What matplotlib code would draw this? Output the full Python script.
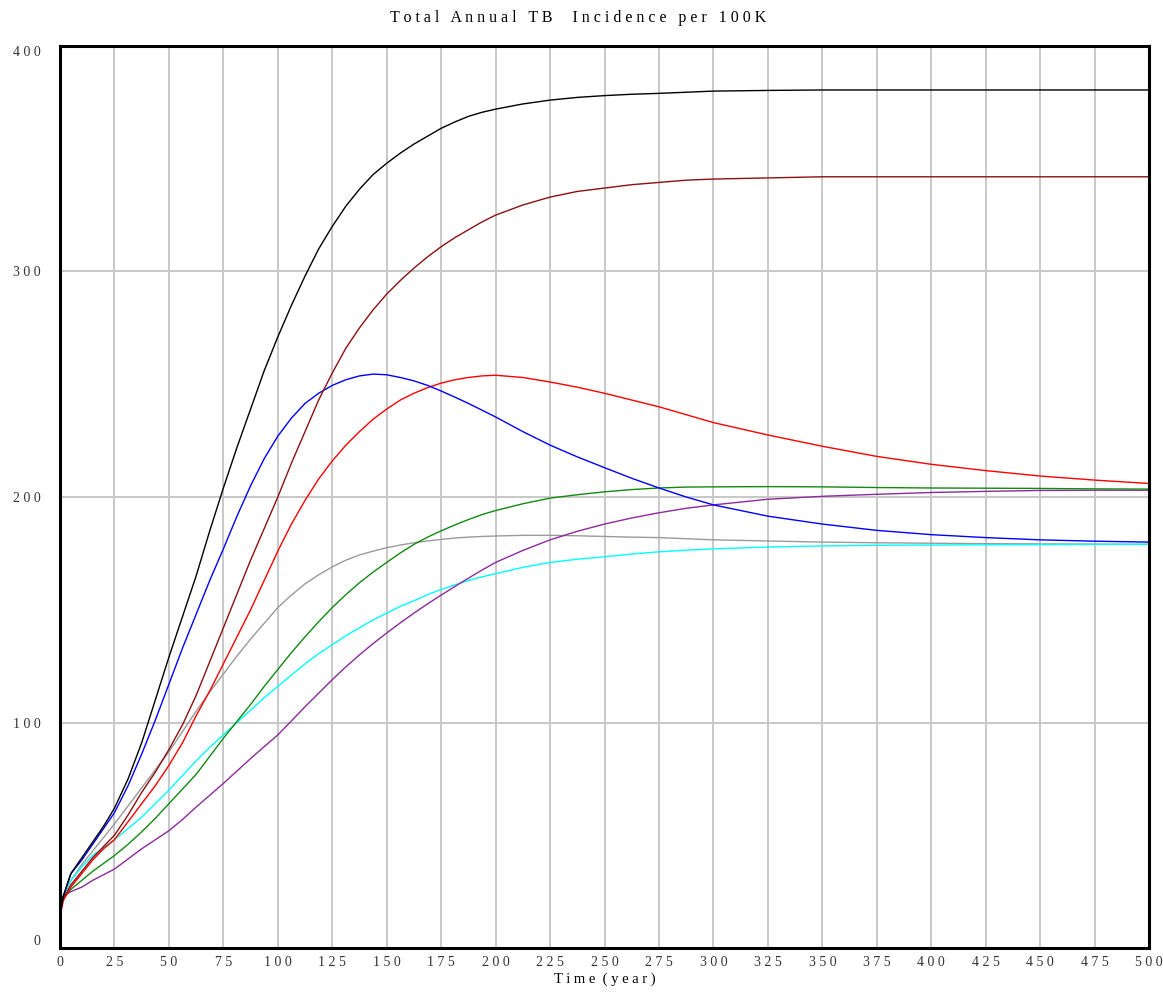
import matplotlib
matplotlib.use("Agg")
import matplotlib.pyplot as plt

# ── Data (time in years, incidence per 100K) ──────────────────────────────────
t = [0, 1.5, 5, 10, 15, 20, 25,
     31.25, 37.5, 43.75, 50, 56.25, 62.5, 68.75, 75, 81.25, 87.5, 93.75, 100,
     106.25, 112.5, 118.75, 125, 131.25, 137.5, 143.75, 150, 156.25, 162.5,
     168.75, 175, 181.25, 187.5, 193.75, 200,
     212.5, 225, 237.5, 250, 262.5, 275, 287.5, 300,
     325, 350, 375, 400, 425, 450, 475, 500]

black = [15, 23, 33, 40, 47, 54, 62,
         75, 91, 110, 129, 147, 165, 185, 204, 222, 239, 256, 271, 285, 298,
         310, 320, 329, 336.5, 343, 348, 352.5, 356.5, 360, 363.5, 366.3, 368.8,
         370.6, 372,
         374.3, 376, 377.2, 378, 378.6, 379, 379.5, 380,
         380.3, 380.5, 380.5, 380.5, 380.5, 380.5, 380.5, 380.5]
brown = [15, 22, 28, 34, 40, 45, 50,
         59, 69, 78, 88, 99, 112, 127, 142, 157, 172, 186, 200, 215, 229, 243,
         255, 266, 275, 283, 290, 296, 301.5, 306.5, 311, 315, 318.5, 322, 325,
         329.5, 333, 335.5, 337, 338.5, 339.5, 340.5, 341,
         341.5, 342, 342, 342, 342, 342, 342, 342]
blue = [15, 23, 33, 39, 46, 53, 60,
        72, 86, 101, 117, 133, 148, 163, 177, 191.5, 205, 217, 227, 235, 241.5,
        246, 249.5, 252, 253.7, 254.5, 254.2, 253, 251.5, 249.5, 247, 244.3,
        241.5, 238.5, 235.5,
        229, 223, 217.8, 213, 208.3, 204, 200, 196.5,
        191.5, 188, 185.2, 183.3, 182, 181, 180.4, 180]
red = [14, 21, 27, 33, 39, 44, 48,
       56, 64, 72, 81, 91, 103, 114, 126, 138, 150, 163, 176, 188, 198.5, 208,
       216, 223, 229, 234.5, 239, 243, 246, 248.5, 250.5, 252, 253, 253.7, 254,
       253, 251, 248.7, 246, 243, 240, 236.5, 233,
       227.5, 222.5, 218, 214.5, 211.7, 209.3, 207.5, 206]
gray = [15, 23, 30, 37, 43, 49, 55,
        63, 71, 79, 87, 96, 105, 113.5, 121.5, 129.5, 137, 144, 151, 156.5,
        161.5, 165.5, 169, 172, 174.3, 176, 177.5, 178.7, 179.7, 180.5, 181.2,
        181.8, 182.2, 182.5, 182.7,
        183, 183, 182.8, 182.5, 182.2, 182, 181.5, 181,
        180.5, 180, 179.7, 179.5, 179.3, 179.2, 179.1, 179]
cyan = [15, 23, 30, 36, 41, 44.5, 48,
        53, 58, 64, 70, 76.5, 83, 89, 94.5, 100, 105.5, 111, 116, 121, 126,
        130.5, 134.5, 138.5, 142, 145.5, 148.5, 151.5, 154, 156.7, 159, 161, 163,
        164.6, 166,
        168.8, 171, 172.4, 173.5, 174.7, 175.7, 176.4, 177,
        177.8, 178.3, 178.6, 178.7, 178.8, 178.9, 179, 179]
green = [15, 22, 26, 30, 34, 37.5, 41,
         46, 51.5, 57.5, 64, 70.5, 77, 85, 93, 100.5, 108, 116, 123.5, 131, 138,
         144.7, 151, 156.7, 162, 166.7, 171, 175.2, 179, 182.2, 185, 187.6, 190,
         192.2, 194,
         197, 199.5, 201, 202.3, 203.3, 204, 204.4, 204.5,
         204.6, 204.5, 204.2, 204, 203.9, 203.8, 203.6, 203.5]
purple = [15, 23, 25, 27, 30, 32.5, 35,
          39.5, 44, 48, 52, 57, 62.5, 67.7, 73, 78.5, 84, 89.3, 94.5, 100.7, 107,
          113, 119, 124.7, 130, 135, 139.7, 144.2, 148.5, 152.6, 156.5, 160.3,
          164, 167.6, 171,
          176.3, 181, 184.8, 188, 190.7, 193, 195, 196.5,
          199, 200.3, 201.2, 202, 202.5, 202.9, 203, 203]

series = [
    (gray, "#9a9a9a"),
    (cyan, "#00ffff"),
    (purple, "#8e2a9e"),
    (green, "#108a10"),
    (red, "#ff0000"),
    (blue, "#0000ff"),
    (brown, "#8b1010"),
    (black, "#000000"),
]

x_ticks = list(range(0, 501, 25))
y_ticks = [0, 100, 200, 300, 400]


def spaced(s):
    # the reference uses widely letter-spaced text
    return " ".join(s)


FONT = "Liberation Serif"

fig = plt.figure(figsize=(11.63, 10), dpi=100)
ax = fig.add_axes([0.0516, 0.052, 0.9364, 0.902])

for y, c in series:
    assert len(y) == len(t)
    ax.plot(t, y, color=c, linewidth=1.0)

ax.set_xlim(0, 500)
ax.set_ylim(0, 400)
ax.set_xticks(x_ticks)
ax.set_yticks(y_ticks)
ax.set_xticklabels([spaced(str(v)) for v in x_ticks], fontfamily=FONT, fontsize=10)
ax.set_yticklabels([spaced(str(v)) for v in y_ticks], fontfamily=FONT, fontsize=10)
ax.tick_params(length=0, pad=6, colors="#333333")
ax.tick_params(axis="y", pad=14)
ylabels = ax.get_yticklabels()
ylabels[0].set_va("bottom")
ylabels[-1].set_va("top")

ax.grid(True, color="#c8c8c8", linewidth=1.4)
ax.set_axisbelow(True)
for sp in ax.spines.values():
    sp.set_linewidth(2.2)
    sp.set_color("black")

ax.set_xlabel(spaced("Time") + "  " + spaced("(year)"), fontfamily=FONT,
              fontsize=10.5, labelpad=2)
fig.text(0.497, 0.982, "   ".join(spaced(w) for w in
         ["Total", "Annual", "TB ", "Incidence", "per", "100K"]),
         ha="center", va="center", fontfamily=FONT, fontsize=11.5)

fig.savefig("out.png", dpi=100)
